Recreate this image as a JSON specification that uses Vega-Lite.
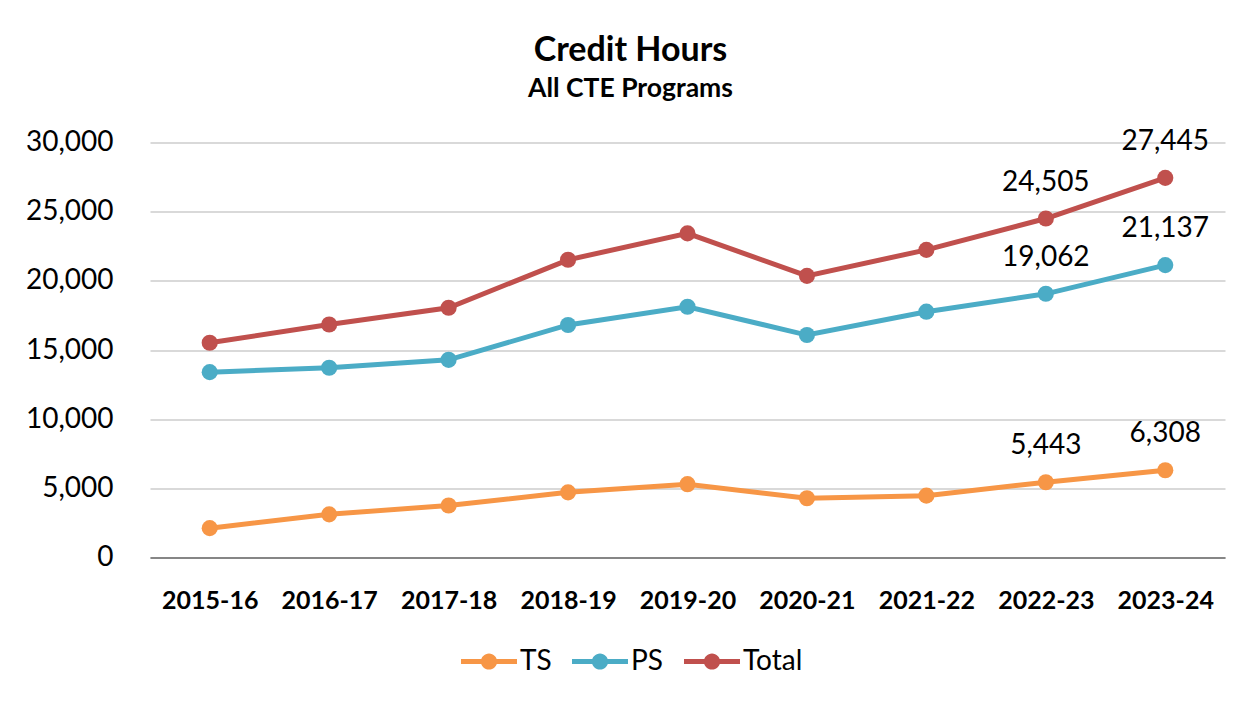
{
  "$schema": "https://vega.github.io/schema/vega-lite/v6.json",
  "width": 1075,
  "height": 415,
  "autosize": {"type": "none"},
  "padding": {"left": 150, "top": 142.5, "right": 28, "bottom": 144.5},
  "background": "white",
  "config": {
    "font": "Lato",
    "view": {"stroke": null},
    "axis": {"labelFont": "Lato", "labelColor": "black", "ticks": false, "title": null}
  },
  "title": {
    "text": "Credit Hours",
    "subtitle": "All CTE Programs",
    "font": "Lato",
    "fontSize": 34,
    "fontWeight": "bold",
    "color": "black",
    "subtitleFont": "Lato",
    "subtitleFontSize": 26.5,
    "subtitleFontWeight": "bold",
    "subtitleColor": "black",
    "subtitlePadding": 8,
    "anchor": "middle",
    "frame": "group",
    "dx": -57,
    "offset": 25
  },
  "data": {
    "values": [
      {"year": "2015-16", "series": "TS", "value": 2120},
      {"year": "2016-17", "series": "TS", "value": 3120},
      {"year": "2017-18", "series": "TS", "value": 3760},
      {"year": "2018-19", "series": "TS", "value": 4710},
      {"year": "2019-20", "series": "TS", "value": 5300},
      {"year": "2020-21", "series": "TS", "value": 4280},
      {"year": "2021-22", "series": "TS", "value": 4470},
      {"year": "2022-23", "series": "TS", "value": 5443},
      {"year": "2023-24", "series": "TS", "value": 6308},
      {"year": "2015-16", "series": "PS", "value": 13400},
      {"year": "2016-17", "series": "PS", "value": 13720},
      {"year": "2017-18", "series": "PS", "value": 14290},
      {"year": "2018-19", "series": "PS", "value": 16810},
      {"year": "2019-20", "series": "PS", "value": 18130},
      {"year": "2020-21", "series": "PS", "value": 16080},
      {"year": "2021-22", "series": "PS", "value": 17770},
      {"year": "2022-23", "series": "PS", "value": 19062},
      {"year": "2023-24", "series": "PS", "value": 21137},
      {"year": "2015-16", "series": "Total", "value": 15520},
      {"year": "2016-17", "series": "Total", "value": 16840},
      {"year": "2017-18", "series": "Total", "value": 18050},
      {"year": "2018-19", "series": "Total", "value": 21520},
      {"year": "2019-20", "series": "Total", "value": 23430},
      {"year": "2020-21", "series": "Total", "value": 20360},
      {"year": "2021-22", "series": "Total", "value": 22240},
      {"year": "2022-23", "series": "Total", "value": 24505},
      {"year": "2023-24", "series": "Total", "value": 27445}
    ]
  },
  "encoding": {
    "x": {
      "field": "year",
      "type": "ordinal",
      "scale": {"type": "point", "padding": 0.5},
      "axis": {
        "labelAngle": 0,
        "labelFontSize": 25,
        "labelFontWeight": "bold",
        "labelPadding": 31,
        "domainColor": "#868686",
        "domainWidth": 2,
        "grid": false
      }
    },
    "y": {
      "field": "value",
      "type": "quantitative",
      "scale": {"domain": [0, 30000], "nice": false},
      "axis": {
        "values": [0, 5000, 10000, 15000, 20000, 25000, 30000],
        "format": ",.0f",
        "labelFontSize": 28,
        "labelPadding": 37,
        "domain": false,
        "gridColor": "#d9d9d9",
        "gridWidth": 2
      }
    },
    "color": {
      "field": "series",
      "type": "nominal",
      "scale": {"domain": ["TS", "PS", "Total"], "range": ["#f79646", "#4bacc6", "#c0504d"]},
      "legend": {
        "title": null,
        "orient": "none",
        "direction": "horizontal",
        "legendX": 311,
        "legendY": 491,
        "labelFont": "Lato",
        "labelFontSize": 28,
        "labelColor": "black",
        "labelOffset": 3,
        "columnPadding": 20,
        "symbolType": "M-1,-0.09 L1,-0.09 L1,0.09 L-1,0.09 Z M-0.29,0 A0.29,0.29 0 1,1 0.29,0 A0.29,0.29 0 1,1 -0.29,0 Z",
        "symbolSize": 3136,
        "symbolStrokeWidth": 0,
        "symbolOpacity": 1
      }
    }
  },
  "layer": [
    {"mark": {"type": "line", "strokeWidth": 5}},
    {"mark": {"type": "point", "filled": true, "size": 260, "opacity": 1}},
    {
      "transform": [{"filter": {"field": "year", "oneOf": ["2022-23", "2023-24"]}}],
      "mark": {"type": "text", "dy": -36, "fontSize": 28, "font": "Lato", "color": "black", "baseline": "middle"},
      "encoding": {
        "text": {"field": "value", "type": "quantitative", "format": ","},
        "color": {"value": "black"}
      }
    }
  ]
}
